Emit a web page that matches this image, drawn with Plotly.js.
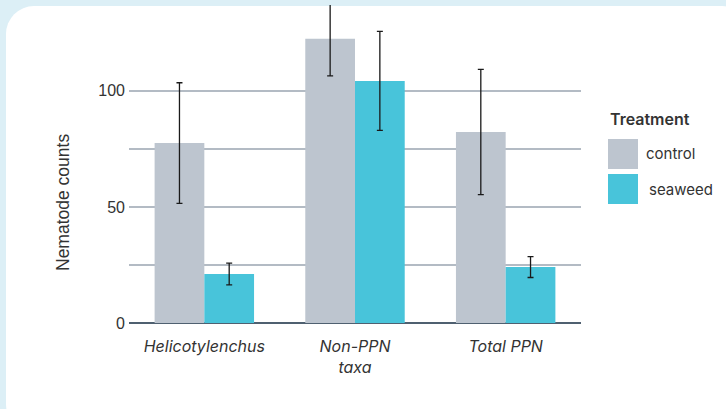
<!DOCTYPE html>
<html>
<head>
<meta charset="utf-8">
<script src="https://cdn.plot.ly/plotly-3.0.1.min.js"></script>
<style>
  html, body { margin: 0; padding: 0; width: 726px; height: 409px; overflow: hidden; background: #dceff6; }
  #panel { position: absolute; left: 6px; top: 6px; right: -24px; bottom: -24px; background: #ffffff; border-radius: 28px; }
  #chart { position: absolute; left: 0; top: 0; width: 726px; height: 409px; }
</style>
</head>
<body>
<div id="panel"></div>
<div id="chart"></div>
<script>
// ---- data ----
const categories = ["Helicotylenchus", "Non-PPN taxa", "Total PPN"];
const tickLabels = ["Helicotylenchus", "Non-PPN<br>taxa", "Total PPN"];
const seriesNames = ["control", "seaweed"];
const controlValues = [77.5, 122.5, 82.3];
const controlErrors = [26, 16, 27];
const seaweedValues = [21.1, 104.3, 24.1];
const seaweedErrors = [4.7, 21.3, 4.5];
const yTickVals = [0, 25, 50, 75, 100];
const yTickText = ["0", "", "50", "", "100"];
const legendTitle = "Treatment";
const yTitle = "Nematode counts";

const colors = { control: "#bdc5cf", seaweed: "#48c4da" };
const textColor = "#333333";
const W = 726, H = 409;
const M = { l: 129, r: 145, t: 5, b: 86 };
const pw = W - M.l - M.r, ph = H - M.t - M.b;
const px = x => (x - M.l) / pw;
const py = y => (H - M.b - y) / ph;

const errStyle = { type: "data", symmetric: true, color: "#1a1a1a", thickness: 1.3, width: 3 };

const traces = [
  { type: "bar", name: seriesNames[0], x: categories, y: controlValues,
    marker: { color: colors.control }, error_y: Object.assign({ array: controlErrors }, errStyle),
    showlegend: false, hoverinfo: "skip" },
  { type: "bar", name: seriesNames[1], x: categories, y: seaweedValues,
    marker: { color: colors.seaweed }, error_y: Object.assign({ array: seaweedErrors }, errStyle),
    showlegend: false, hoverinfo: "skip" }
];

const interFam = "Inter, 'Noto Sans', sans-serif";
const arialFam = "'Liberation Sans', Arial, sans-serif";
const legendFont = { family: interFam, size: 15, color: textColor };

const layout = {
  width: W, height: H,
  margin: M,
  paper_bgcolor: "rgba(0,0,0,0)",
  plot_bgcolor: "rgba(0,0,0,0)",
  barmode: "group",
  bargap: 0.34,
  bargroupgap: 0,
  showlegend: false,
  xaxis: {
    type: "category",
    tickvals: categories, ticktext: tickLabels,
    range: [-0.5, 2.5],
    showgrid: false, showline: false, ticks: "",
    ticklabelstandoff: 12,
    tickfont: { family: interFam, size: 16, color: textColor, style: "italic" },
    fixedrange: true
  },
  yaxis: {
    range: [0, 137],
    tickvals: yTickVals, ticktext: yTickText,
    showgrid: true, gridcolor: "#b3bbc4", gridwidth: 1.3,
    zeroline: true, zerolinecolor: "#4f6070", zerolinewidth: 1.5,
    showline: false, ticks: "",
    ticklabelstandoff: 3,
    tickfont: { family: arialFam, size: 16, color: textColor },
    fixedrange: true
  },
  shapes: [
    { type: "rect", xref: "paper", yref: "paper", x0: px(608), x1: px(638), y0: py(169), y1: py(139),
      fillcolor: colors.control, line: { width: 0 } },
    { type: "rect", xref: "paper", yref: "paper", x0: px(608), x1: px(638), y0: py(204), y1: py(174),
      fillcolor: colors.seaweed, line: { width: 0 } }
  ],
  annotations: [
    { text: yTitle, xref: "paper", yref: "paper", x: px(63), y: py(203), xanchor: "center", yanchor: "middle",
      textangle: -90, showarrow: false, font: { family: arialFam, size: 17.5, color: textColor } },
    { text: legendTitle, xref: "paper", yref: "paper", x: px(608), y: py(119), xanchor: "left", yanchor: "middle",
      showarrow: false, font: Object.assign({}, legendFont, { size: 16, weight: 600 }) },
    { text: seriesNames[0], xref: "paper", yref: "paper", x: px(644), y: py(153), xanchor: "left", yanchor: "middle",
      showarrow: false, font: legendFont },
    { text: seriesNames[1], xref: "paper", yref: "paper", x: px(647), y: py(189), xanchor: "left", yanchor: "middle",
      showarrow: false, font: legendFont }
  ]
};

Plotly.newPlot("chart", traces, layout, { displayModeBar: false, staticPlot: true });
</script>
</body>
</html>
